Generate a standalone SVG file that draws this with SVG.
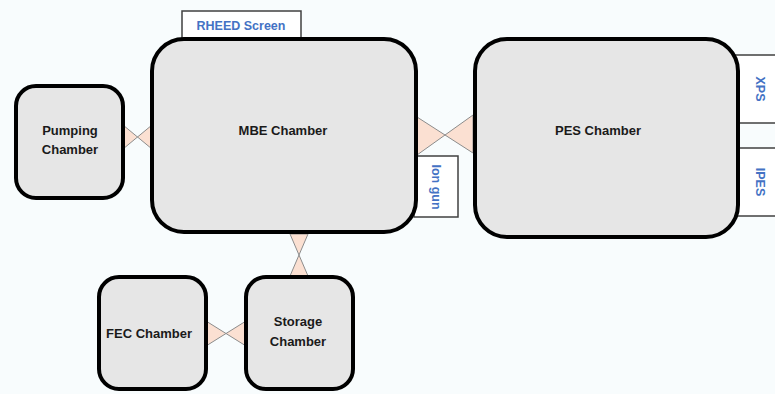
<svg xmlns="http://www.w3.org/2000/svg" width="775" height="394" viewBox="0 0 775 394">
  <style>
    .chamber { fill: #e6e6e6; stroke: #000; stroke-width: 4; }
    .port { fill: #ffffff; stroke: #404040; stroke-width: 1.5; }
    .valve { fill: #fbe0d2; stroke: #8c8c8c; stroke-width: 1; }
    .label { font-family: "Liberation Sans", Arial, sans-serif; font-weight: bold; font-size: 13px; fill: #1a1a1a; text-anchor: middle; }
    .plabel { font-family: "Liberation Sans", Arial, sans-serif; font-weight: bold; font-size: 12.5px; fill: #4472c4; text-anchor: middle; }
  </style>
  <rect width="775" height="394" fill="#f8fcfd"/>

  <!-- Ports attached to chambers (drawn under the chamber outlines) -->
  <g id="rheed-screen">
    <rect class="port" x="182" y="11" width="119" height="30"/>
    <text class="plabel" x="241" y="30">RHEED Screen</text>
  </g>
  <g id="ion-gun">
    <rect class="port" x="414" y="156" width="44" height="61"/>
    <text class="plabel" transform="translate(432,187) rotate(90)" y="0">Ion gun</text>
  </g>
  <g id="xps">
    <rect class="port" x="735" y="55" width="45" height="68"/>
    <text class="plabel" transform="translate(756,89) rotate(90)">XPS</text>
  </g>
  <g id="ipes">
    <rect class="port" x="735" y="148" width="45" height="68"/>
    <text class="plabel" transform="translate(756,182) rotate(90)">IPES</text>
  </g>

  <!-- Gate valves between chambers -->
  <g id="connectors">
    <polygon class="valve" points="123,125 123,149 152,125 152,149"/>
    <polygon class="valve" points="417,117 417,155 473,115 473,153"/>
    <polygon class="valve" points="290,234 308,234 290,276 308,276"/>
    <polygon class="valve" points="206,321 206,346 246,321 246,346"/>
  </g>

  <g id="mbe-chamber">
    <rect class="chamber" x="152" y="39" width="264" height="193" rx="32" ry="32"/>
    <text class="label" x="283" y="135">MBE Chamber</text>
  </g>
  <g id="pes-chamber">
    <rect class="chamber" x="475" y="39" width="263" height="198" rx="32" ry="32"/>
    <text class="label" x="598" y="135">PES Chamber</text>
  </g>
  <g id="pumping-chamber">
    <rect class="chamber" x="16" y="86" width="107" height="112" rx="20" ry="20"/>
    <text class="label" x="70" y="135">Pumping</text>
    <text class="label" x="70" y="154">Chamber</text>
  </g>
  <g id="fec-chamber">
    <rect class="chamber" x="99" y="277" width="107" height="112" rx="20" ry="20"/>
    <text class="label" x="149" y="338">FEC Chamber</text>
  </g>
  <g id="storage-chamber">
    <rect class="chamber" x="246" y="277" width="107" height="112" rx="20" ry="20"/>
    <text class="label" x="298" y="326">Storage</text>
    <text class="label" x="298" y="346">Chamber</text>
  </g>
</svg>
